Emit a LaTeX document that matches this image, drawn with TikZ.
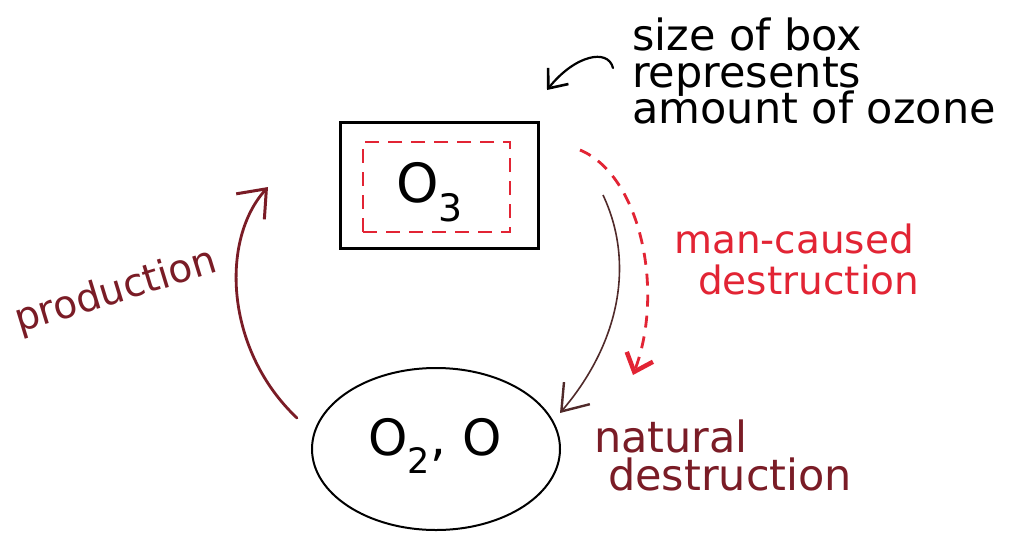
\documentclass[tikz,border=0pt]{standalone}
\usepackage{fontspec}
\setmainfont{DejaVu Sans}
\usetikzlibrary{arrows.meta,shapes.geometric}
\definecolor{darkred}{RGB}{122,28,38}
\definecolor{brightred}{RGB}{226,36,52}
\definecolor{arcgray}{RGB}{80,42,42}
\begin{document}
\begin{tikzpicture}[x=1pt,y=-1pt,
  lbl/.style={inner sep=0pt, anchor=base west},
  bigtxt/.style={font=\fontsize{43}{45}\selectfont},
  midtxt/.style={font=\fontsize{39}{41}\selectfont},
  prodarrow/.style={draw=darkred, line width=2.8pt, line cap=round, -{Straight Barb[length=24pt,width=38pt,line width=3pt]}},
  natarrow/.style={draw=arcgray, line width=1.6pt, -{Straight Barb[length=24pt,width=34pt,line width=2.4pt]}},
  manarrow/.style={draw=brightred, line width=2.8pt, dash pattern=on 12pt off 9pt, -{Straight Barb[length=16pt,width=28pt,line width=4.5pt]}},
  notearrow/.style={draw=black, line width=2.2pt, line cap=round, -{Straight Barb[length=16pt,width=26pt,line width=2.6pt]}}
]
\useasboundingbox (0,0) rectangle (1011,533);
\fill[white] (0,0) rectangle (1011,533);

% ozone box
\node[draw=black, line width=3pt, minimum width=198pt, minimum height=126pt, inner sep=0pt] (box) at (439,185) {};
\node[draw=brightred, line width=2.6pt, dash pattern=on 14pt off 9pt, minimum width=147pt, minimum height=90pt, inner sep=0pt] (inner) at (436.5,187) {};
\node[inner sep=0pt, font=\fontsize{54}{56}\selectfont] (o3) at (430,192) {O\textsubscript{3}};

% O2, O ellipse
\node[draw=black, ellipse, line width=2pt, minimum width=248pt, minimum height=162pt, inner sep=0pt] (gas) at (436,449) {};
\node[inner sep=0pt, font=\fontsize{50}{52}\selectfont] (o2o) at (435,446) {O\textsubscript{2}, O};

% connectors
\coordinate (prodS) at (297,418);
\coordinate (prodE) at (268,187);
\draw[prodarrow] (prodS) .. controls (225,350) and (220,240) .. (prodE);

\coordinate (natS) at (603,195);
\coordinate (natE) at (560,413);
\draw[natarrow] (natS) .. controls (636,265) and (618,345) .. (natE);

\coordinate (manS) at (580,150);
\coordinate (manE) at (633,375);
\draw[manarrow] (manS) .. controls (640,175) and (665,290) .. (manE);

\coordinate (noteS) at (613,68);
\coordinate (noteE) at (547,90);
\draw[notearrow] (noteS) .. controls (608,48) and (575,55) .. (noteE);

% labels
\node[lbl, bigtxt] (note1) at (632,50) {size of box};
\node[lbl, bigtxt] (note2) at (632,87) {represents};
\node[lbl, bigtxt] (note3) at (632,123) {amount of ozone};

\node[lbl, midtxt, text=brightred] (man1) at (674,253) {man-caused};
\node[lbl, midtxt, text=brightred] (man2) at (698,294) {destruction};

\node[lbl, bigtxt, text=darkred] (nat1) at (594,452) {natural};
\node[lbl, bigtxt, text=darkred] (nat2) at (608,490) {destruction};

\node[inner sep=0pt, midtxt, text=darkred, rotate=17] (prodlabel) at (116,292) {production};
\end{tikzpicture}
\end{document}
